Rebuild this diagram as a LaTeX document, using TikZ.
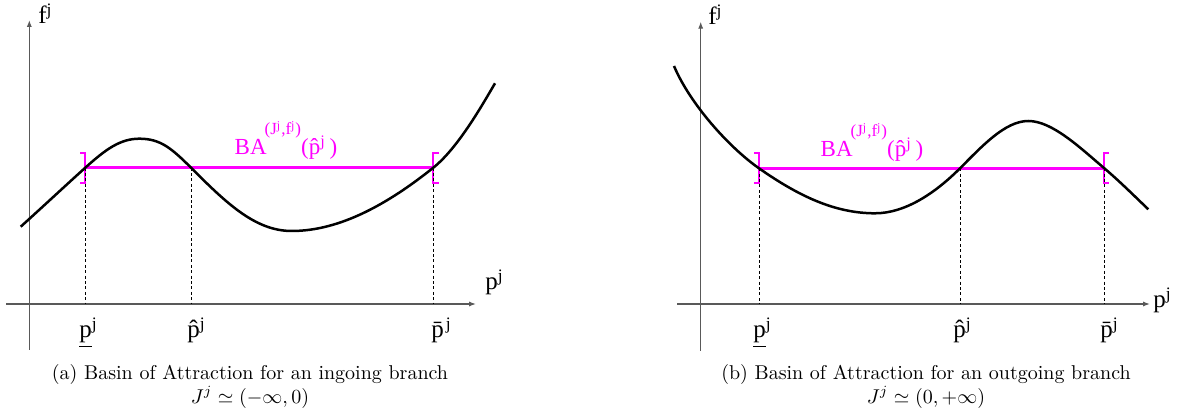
\documentclass[tikz,border=0pt]{standalone}
\usepackage{amsmath,amssymb}
\usepackage{fontspec}
\newfontfamily\plotfont{Liberation Serif}
\usetikzlibrary{arrows.meta,positioning}
\definecolor{basinpink}{RGB}{255,0,255}
\newcommand{\balabel}{BA\kern-1pt\raisebox{10pt}{\fontsize{8.5}{9}\selectfont(J\textsuperscript{j},f\textsuperscript{j})}(\^{p}\textsuperscript{j}\,)}

\begin{document}
\begin{tikzpicture}[x=0.5pt, y=-0.5pt,
    axis/.style={draw=black!65, line width=0.65pt, -{Latex[length=3.5pt,width=2.6pt]}},
    curve/.style={black, line width=1.25pt},
    basin/.style={draw=basinpink, line width=1.25pt},
    bracket/.style={draw=basinpink, line width=1pt},
    guide/.style={black, line width=0.45pt, dash pattern=on 1.5pt off 1.2pt},
    lbl/.style={font=\plotfont\fontsize{12.5}{14}\selectfont, inner sep=0pt},
    balbl/.style={font=\plotfont\fontsize{11.5}{13}\selectfont, text=basinpink, inner sep=0pt},
    capt/.style={align=center, font=\normalsize, inner sep=0pt}
]
\useasboundingbox (0,0) rectangle (1177,416);

% (a) ingoing branch
\coordinate (lo) at (29.3,304);
\coordinate (lxs) at (6,304);
\coordinate (lxe) at (476,304);
\coordinate (lys) at (29.3,350);
\coordinate (lye) at (29.3,20);
\draw[axis] (lxs) -- (lxe);
\draw[axis] (lys) -- (lye);
\node[lbl, anchor=base west] (lf) at (38,24) {f\textsuperscript{j}};
\node[lbl, anchor=base west] (lp) at (485,290) {p\textsuperscript{j}};

\coordinate (al) at (85.3,167.7);
\coordinate (ah) at (191,167.7);
\coordinate (ab) at (433.3,167.7);

% basin and brackets
\draw[basin] (al) -- (ab);
\draw[bracket] (al) ++(-5,-15) -- ++(5,0) -- ++(0,30) -- ++(-5,0);
\draw[bracket] (ab) ++(6,-15) -- ++(-6,0) -- ++(0,30) -- ++(6,0);
\node[balbl, anchor=base] (aba) at (286,155) {\balabel};

\draw[curve] (20.7,226.7) .. controls (42,207.5) and (66,185.1) .. (al)
  .. controls (105.3,149.7) and (120,138.7) .. (139.3,138.7)
  .. controls (160,138.7) and (171,147.7) .. (ah)
  .. controls (226,202.7) and (255,231) .. (291.7,231)
  .. controls (340,231) and (388.3,203.7) .. (ab)
  .. controls (458.3,147.7) and (483,103.7) .. (495,83.3);

\foreach \p in {al,ah,ab}
  \draw[guide] (\p) -- (\p |- lo);

\node[lbl, anchor=base west] (alp) at (79,338) {\underline{p}\textsuperscript{j}};
\node[lbl, anchor=base west] (ahp) at (187,338) {\^{p}\textsuperscript{j}};
\node[lbl, anchor=base west] (abp) at (431,338) {\={p}\kern1pt\textsuperscript{j}};

\node[capt] (acap) at (250,386)
  {(a) Basin of Attraction for an ingoing branch\\ $J^j \simeq (-\infty,0)$};

% (b) outgoing branch
\coordinate (ro) at (700.7,304);
\coordinate (rxs) at (677,304);
\coordinate (rxe) at (1150,304);
\coordinate (rys) at (700.7,350.7);
\coordinate (rye) at (700.7,21.7);
\draw[axis] (rxs) -- (rxe);
\draw[axis] (rys) -- (rye);
\node[lbl, anchor=base west] (rf) at (708,25) {f\textsuperscript{j}};
\node[lbl, anchor=base west] (rp) at (1153,308) {p\textsuperscript{j}};

\coordinate (bl) at (759,168.3);
\coordinate (bh) at (960,168.3);
\coordinate (bb) at (1104.3,168.3);

\draw[basin] (bl) -- (bb);
\draw[bracket] (bl) ++(-5,-15) -- ++(5,0) -- ++(0,30) -- ++(-5,0);
\draw[bracket] (bb) ++(5,-15) -- ++(-5,0) -- ++(0,30) -- ++(5,0);
\node[balbl, anchor=base] (bba) at (872,157) {\balabel};

\draw[curve] (674,66) .. controls (690,104) and (729,147.3) .. (bl)
  .. controls (799,196.3) and (835,213.3) .. (875,213.3)
  .. controls (905,213.3) and (935,193.3) .. (bh)
  .. controls (982,146.3) and (1005,121) .. (1028.3,121)
  .. controls (1052,121) and (1079.3,147) .. (bb)
  .. controls (1119.3,181) and (1133.3,195) .. (1148.3,209.3);

\foreach \p in {bl,bh,bb}
  \draw[guide] (\p) -- (\p |- ro);

\node[lbl, anchor=base west] (blp) at (753,338) {\underline{p}\textsuperscript{j}};
\node[lbl, anchor=base west] (bhp) at (953,338) {\^{p}\textsuperscript{j}};
\node[lbl, anchor=base west] (bbp) at (1100,338) {\={p}\textsuperscript{j}};

\node[capt] (bcap) at (926,386)
  {(b) Basin of Attraction for an outgoing branch\\ $J^j \simeq (0,+\infty)$};
\end{tikzpicture}
\end{document}
